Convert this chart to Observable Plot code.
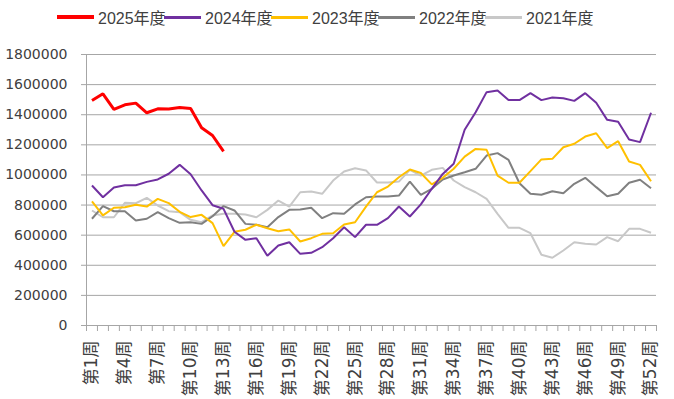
<!DOCTYPE html>
<html><head><meta charset="utf-8">
<script src="https://cdn.jsdelivr.net/npm/d3@7"></script>
<script src="https://cdn.jsdelivr.net/npm/@observablehq/plot@0.6"></script>
<style>
body{margin:0;background:#fff;font-family:"Liberation Sans Narrow","Liberation Sans","Noto Sans CJK SC",sans-serif;}
#legend{height:30px;position:relative;width:674px;}
.item{position:absolute;top:6px;height:22px;display:flex;align-items:center;font-size:16px;color:#404040;white-space:nowrap;}
.sw{width:37px;margin-right:4px;}
</style></head><body>
<div id="legend"></div><div id="chart"></div>
<script>
const weeks = [1,2,3,4,5,6,7,8,9,10,11,12,13,14,15,16,17,18,19,20,21,22,23,24,25,26,27,28,29,30,31,32,33,34,35,36,37,38,39,40,41,42,43,44,45,46,47,48,49,50,51,52];
const labelWeeks = [1,4,7,10,13,16,19,22,25,28,31,34,37,40,43,46,49,52];
const xLabels = ["第1周","第4周","第7周","第10周","第13周","第16周","第19周","第22周","第25周","第28周","第31周","第34周","第37周","第40周","第43周","第46周","第49周","第52周"];
const yTicks = [0,200000,400000,600000,800000,1000000,1200000,1400000,1600000,1800000];
const seriesNames = ["2025年度","2024年度","2023年度","2022年度","2021年度"];
const seriesColors = ["#ff0000","#7030a0","#ffc000","#808080","#c8c8c8"];
const seriesWidths = [3,2,2,2,2];

const y2025 = [1494000,1539000,1436000,1466000,1477000,1413000,1439000,1438000,1448000,1441000,1313000,1262000,1156000];
const y2024 = [930000,852000,917000,932000,932000,954000,970000,1008000,1067000,1005000,897000,799000,775000,623000,569000,580000,463000,531000,553000,476000,483000,520000,580000,653000,587000,669000,669000,713000,790000,724000,805000,908000,1007000,1074000,1300000,1417000,1550000,1561000,1497000,1497000,1543000,1497000,1514000,1510000,1492000,1543000,1479000,1366000,1353000,1235000,1218000,1413000];
const y2023 = [824000,731000,782000,786000,802000,790000,841000,813000,755000,720000,735000,680000,527000,622000,636000,669000,646000,626000,638000,558000,580000,609000,613000,671000,686000,790000,885000,923000,985000,1036000,1013000,937000,981000,1041000,1122000,1173000,1167000,996000,948000,948000,1025000,1103000,1107000,1184000,1207000,1255000,1277000,1178000,1224000,1089000,1067000,958000];
const y2022 = [709000,793000,759000,759000,697000,709000,753000,713000,682000,686000,675000,726000,793000,764000,675000,669000,653000,720000,768000,770000,782000,713000,746000,742000,804000,852000,857000,857000,863000,956000,868000,908000,970000,996000,1018000,1041000,1129000,1145000,1100000,945000,875000,868000,892000,879000,941000,981000,919000,859000,875000,948000,968000,912000];
const y2021 = [764000,719000,719000,815000,812000,848000,797000,759000,753000,702000,686000,731000,742000,742000,737000,719000,768000,830000,790000,885000,890000,875000,963000,1023000,1045000,1030000,950000,950000,956000,1034000,996000,1034000,1047000,963000,919000,885000,841000,742000,649000,649000,613000,470000,450000,498000,553000,543000,538000,587000,560000,642000,642000,616000];
const seriesValues = [y2025,y2024,y2023,y2022,y2021];

// legend
const legend = document.getElementById("legend");
seriesNames.forEach((n,i)=>{
  const it = document.createElement("div");
  it.className="item";
  it.style.left = (57 + i*107) + "px";
  const sw = document.createElement("span");
  sw.className="sw";
  sw.style.height = (seriesWidths[i]+1) + "px";
  sw.style.background = seriesColors[i];
  const t = document.createElement("span");
  t.textContent = n;
  it.appendChild(sw); it.appendChild(t);
  legend.appendChild(it);
});

const tickBounds = weeks.map(w => w - 0.5).concat([weeks[weeks.length-1] + 0.5]);

const lineMarks = seriesValues.map((vals,i)=>
  Plot.line(vals.map((v,j)=>({week: weeks[j], value: v})), {x:"week", y:"value", stroke: seriesColors[i], strokeWidth: seriesWidths[i], strokeLinejoin:"miter", strokeLinecap:"butt"})
).reverse();

const chart = Plot.plot({
  width:674, height:369, marginLeft:86, marginRight:18, marginTop:24, marginBottom:74,
  style:{fontFamily:'"DejaVu Sans","Noto Sans CJK SC",sans-serif', fontSize:"14px", color:"#404040", background:"#fff"},
  x:{type:"linear", domain:[0.5,52.5], axis:null},
  y:{domain:[0,1800000], axis:null},
  marks:[
    Plot.gridY(yTicks,{stroke:"#a6a6a6", strokeOpacity:1, strokeWidth:1}),
    Plot.axisY(yTicks,{label:null, tickFormat:d=>String(d), tickSize:5, tickPadding:14, stroke:"#a6a6a6", fontSize:14, fill:"#404040"}),
    Plot.ruleX([0.5], {stroke:"#a6a6a6"}),
    Plot.ruleY([0], {stroke:"#a6a6a6"}),
    Plot.axisX(tickBounds, {label:null, tickFormat:()=>"", tickSize:6, stroke:"#a6a6a6"}),
    Plot.axisX(labelWeeks, {label:null, tickFormat:(d)=>xLabels[labelWeeks.indexOf(d)], tickSize:0, tickRotate:-90, tickPadding:15, fontSize:17, fill:"#404040", fontFamily:'"DejaVu Sans","Noto Sans CJK SC",sans-serif'}),
    ...lineMarks
  ]
});
document.getElementById("chart").appendChild(chart);
</script>
</body></html>
